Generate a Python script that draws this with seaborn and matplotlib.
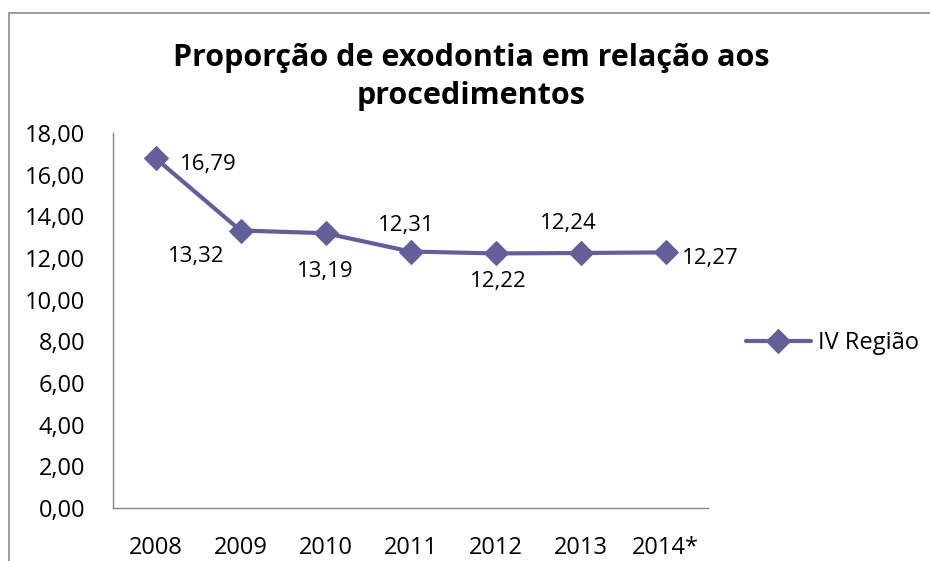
import pandas as pd
import matplotlib.pyplot as plt
import seaborn as sns
from matplotlib.patches import Rectangle

# ----
# Data
# ----
years = ['2008', '2009', '2010', '2011', '2012', '2013', '2014*']
values = [16.79, 13.32, 13.19, 12.31, 12.22, 12.24, 12.27]
series_name = 'IV Região'
title = 'Proporção de exodontia em relação aos\nprocedimentos'
# where each data label sits relative to its point (offset in points, baseline of text)
label_offsets = [(17.6, -8.6), (-52, -22.7), (-20.5, -31.5), (-23.4, 14.8),
                 (-18.4, -24.1), (-29.2, 17.3), (11.9, -8.4)]

df = pd.DataFrame({'ano': years, 'valor': values, 'serie': series_name})
df['pos'] = range(len(years))

# -----
# Plot
# -----
sns.set_style('white')
plt.rcParams['font.family'] = ['Open Sans', 'DejaVu Sans']
plt.rcParams['text.color'] = 'black'
plt.rcParams['xtick.labelcolor'] = 'black'
plt.rcParams['ytick.labelcolor'] = 'black'
line_col = '#625F99'
axis_col = '#868686'

fig = plt.figure(figsize=(9.3, 5.61), dpi=100)
ax = fig.add_axes([113 / 930, 53 / 561, 595 / 930, 375 / 561])

sns.lineplot(data=df, x='pos', y='valor', hue='serie', palette=[line_col],
             marker='D', markersize=12, markeredgecolor=line_col, linewidth=3, ax=ax)

ax.set_xlim(-0.5, len(years) - 0.5)
ax.set_ylim(0, 18)
ax.set_yticks(range(0, 19, 2))
ax.set_yticklabels([('%.2f' % v).replace('.', ',') for v in range(0, 19, 2)], fontsize=17)

# category boundaries carry the ticks, labels sit in the middle
ax.set_xticks([i - 0.5 for i in range(len(years) + 1)])
ax.set_xticklabels([])
ax.set_xticks(range(len(years)), minor=True)
ax.set_xticklabels(years, minor=True, fontsize=17)
ax.tick_params(axis='x', which='major', direction='out', length=7, color=axis_col, width=1)
ax.tick_params(axis='x', which='minor', length=0, pad=20)
ax.tick_params(axis='y', direction='out', length=9, color=axis_col, width=1, pad=11)
ax.set_xlabel('')
ax.set_ylabel('')

sns.despine(ax=ax)
for s in ['left', 'bottom']:
    ax.spines[s].set_color(axis_col)
    ax.spines[s].set_linewidth(1)

for x, v, off in zip(df['pos'], values, label_offsets):
    ax.annotate(('%.2f' % v).replace('.', ','), (x, v), xytext=off,
                textcoords='offset points', fontsize=16, ha='left', va='baseline')

fig.text(471 / 930, 1 - 77 / 561, title, ha='center', va='center',
         fontsize=22, fontweight='bold', linespacing=1.35)

ax.get_legend().remove()
handles, labels = ax.get_legend_handles_labels()
fig.legend(handles, labels, loc='center left', bbox_to_anchor=(746 / 930, 1 - 343 / 561),
           frameon=False, fontsize=17, handlelength=2.75, handletextpad=0.3,
           borderpad=0, borderaxespad=0)

# chart frame (cropped at the right and bottom)
fig.add_artist(Rectangle((9 / 930, -0.1), 1.2, 1.1 - 13 / 561,
                         transform=fig.transFigure, fill=False,
                         edgecolor='#8C8C8C', linewidth=1.2))

fig.savefig('out.png', dpi=100)
